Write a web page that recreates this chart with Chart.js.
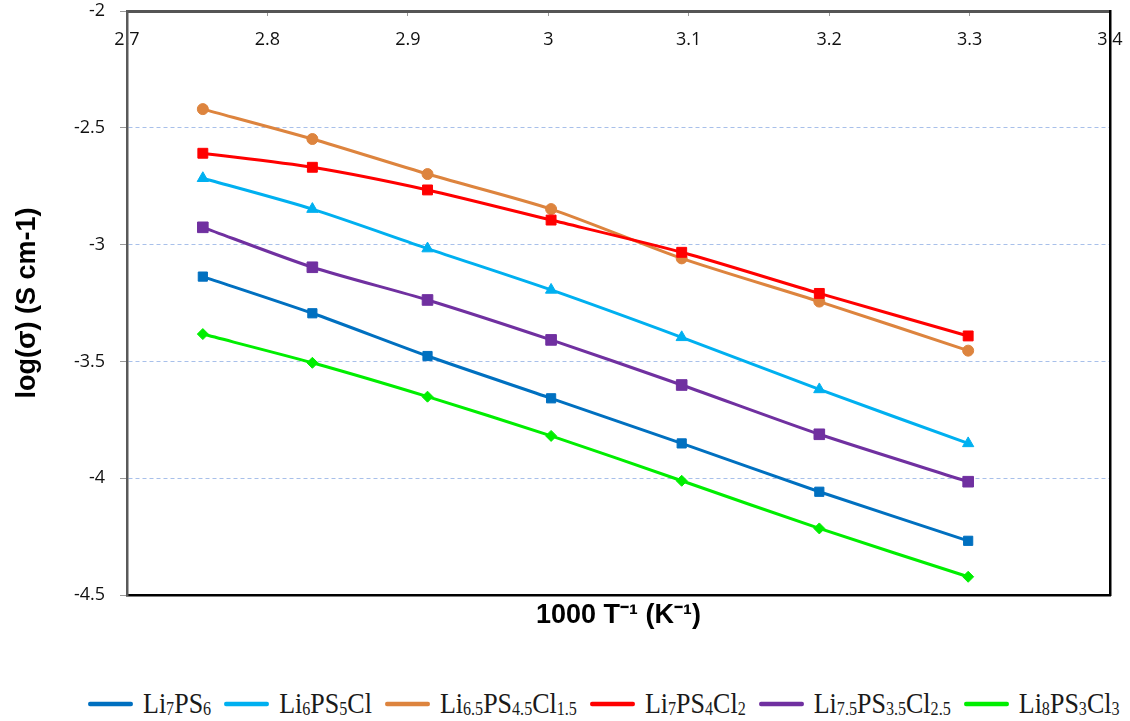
<!DOCTYPE html>
<html>
<head>
<meta charset="utf-8">
<script src="https://cdn.jsdelivr.net/npm/chart.js@4.4.1/dist/chart.umd.min.js"></script>
<style>
  html, body { margin: 0; padding: 0; background: #fff; }
  #wrap { position: relative; width: 1130px; height: 721px; overflow: hidden; }
  #plot { position: absolute; left: 0; top: 0; }
  #legend {
    position: absolute; left: 88px; top: 689px;
    display: flex; align-items: center; white-space: nowrap;
    font-family: "Liberation Serif", "Times New Roman", serif;
    font-size: 26px; color: #1a1a1a;
    transform: scaleY(1.12); transform-origin: left center;
  }
  #legend .item { display: flex; align-items: center; margin-right: 13px; }
  #legend .swatch { width: 45px; height: 4px; border-radius: 2px; margin-right: 10px; }
  #legend sub { font-size: 62%; vertical-align: -0.12em; line-height: 0; }
</style>
</head>
<body>
<div id="wrap">
  <canvas id="plot" width="1130" height="640"></canvas>
  <div id="legend"></div>
</div>
<script>
// 1000/T for 90, 80, 70, 60, 50, 40, 30 °C
const invT = [2.754, 2.832, 2.914, 3.002, 3.095, 3.193, 3.299];

const names = ['Li7PS6', 'Li6PS5Cl', 'Li6.5PS4.5Cl1.5', 'Li7PS4Cl2', 'Li7.5PS3.5Cl2.5', 'Li8PS3Cl3'];

// log(sigma) per composition
const li7ps6     = [-3.137, -3.294, -3.477, -3.658, -3.851, -4.058, -4.268];
const li6ps5cl   = [-2.716, -2.848, -3.017, -3.194, -3.397, -3.620, -3.851];
const li65ps45cl = [-2.420, -2.548, -2.698, -2.848, -3.059, -3.244, -3.454];
const li7ps4cl2  = [-2.609, -2.669, -2.766, -2.895, -3.033, -3.209, -3.391];
const li75ps35cl = [-2.926, -3.097, -3.237, -3.408, -3.601, -3.812, -4.015];
const li8ps3cl3  = [-3.383, -3.506, -3.651, -3.819, -4.011, -4.215, -4.422];

const xTicks = [2.7, 2.8, 2.9, 3.0, 3.1, 3.2, 3.3, 3.4];
const yTicks = [-2, -2.5, -3, -3.5, -4, -4.5];

const series = [li7ps6, li6ps5cl, li65ps45cl, li7ps4cl2, li75ps35cl, li8ps3cl3];
const colors = ['#0070C0', '#00B0F0', '#DD843E', '#FF0000', '#7030A0', '#00EE00'];
const markers = ['rect', 'triangle', 'circle', 'rect', 'rect', 'rectRot'];
const markerSize = [6.5, 6.5, 5.5, 7, 7.5, 5.5];

const datasets = series.map((vals, i) => ({
  label: names[i],
  data: vals.map((v, j) => ({ x: invT[j], y: v })),
  borderColor: colors[i],
  backgroundColor: colors[i],
  borderWidth: 3,
  pointStyle: markers[i],
  pointRadius: markerSize[i],
  pointBorderWidth: 1,
  tension: 0.25,
  order: i === 3 ? 0 : 1
}));

const tickFont = { family: '"Open Sans", sans-serif', size: 18 };
const titleFont = { family: '"Liberation Sans", Arial, sans-serif', size: 27, weight: 'bold' };

function useTicks(list) {
  return scale => { scale.ticks = list.map(v => ({ value: v })); };
}

new Chart(document.getElementById('plot'), {
  type: 'line',
  data: { datasets },
  options: {
    responsive: false,
    animation: false,
    devicePixelRatio: 1,
    layout: { padding: { top: 11, right: 20, bottom: 8.6, left: 0 } },
    plugins: {
      legend: { display: false },
      tooltip: { enabled: false },
      title: {
        display: true,
        position: 'bottom',
        fullSize: false,
        text: '1000 T\u207B\u00B9 (K\u207B\u00B9)',
        color: '#000',
        font: titleFont,
        padding: { top: 4, bottom: 0 }
      }
    },
    scales: {
      x: {
        type: 'linear',
        position: 'top',
        min: 2.7,
        max: 3.4,
        afterBuildTicks: useTicks(xTicks),
        afterFit: scale => {
          // labels sit inside the frame, so the axis takes no room
          scale.height = 0;
          scale.paddingLeft = 0;
          scale.paddingRight = 0;
        },
        ticks: {
          mirror: true,
          padding: 18,
          color: '#111',
          font: tickFont,
          callback: v => String(v)
        },
        grid: { drawOnChartArea: false, tickLength: -5, color: '#999', tickWidth: 1 },
        border: { color: '#555', width: 3 }
      },
      x2: {
        type: 'linear',
        position: 'bottom',
        min: 2.7,
        max: 3.4,
        ticks: { display: false },
        grid: { drawOnChartArea: false, drawTicks: false },
        border: { color: '#000', width: 2.5 }
      },
      y: {
        type: 'linear',
        position: 'left',
        min: -4.5,
        max: -2,
        afterBuildTicks: useTicks(yTicks),
        afterFit: scale => {
          scale.width = 127;
          scale.paddingTop = 0;
          scale.paddingBottom = 0;
        },
        ticks: {
          padding: 15,
          color: '#111',
          font: tickFont,
          callback: v => String(v)
        },
        grid: {
          color: '#A8C0EA',
          lineWidth: 1,
          tickLength: 7,
          tickColor: '#999',
          tickBorderDash: []
        },
        border: { color: '#5a5a5a', width: 2.5, dash: [4, 3] },
        title: {
          display: true,
          text: 'log(\u03C3) (S cm-1)',
          color: '#000',
          font: titleFont,
          padding: { top: 11, bottom: 0 }
        }
      },
      y2: {
        type: 'linear',
        position: 'right',
        min: -4.5,
        max: -2,
        ticks: { display: false },
        grid: { drawOnChartArea: false, drawTicks: false },
        border: { color: '#000', width: 2.5 }
      }
    }
  }
});

// legend row with subscripted formulas
const legend = document.getElementById('legend');
names.forEach((name, i) => {
  const item = document.createElement('div');
  item.className = 'item';
  const sw = document.createElement('span');
  sw.className = 'swatch';
  sw.style.background = colors[i];
  const txt = document.createElement('span');
  txt.innerHTML = name.replace(/(\d+(?:\.\d+)?)/g, '<sub>$1</sub>');
  item.appendChild(sw);
  item.appendChild(txt);
  legend.appendChild(item);
});
</script>
</body>
</html>
